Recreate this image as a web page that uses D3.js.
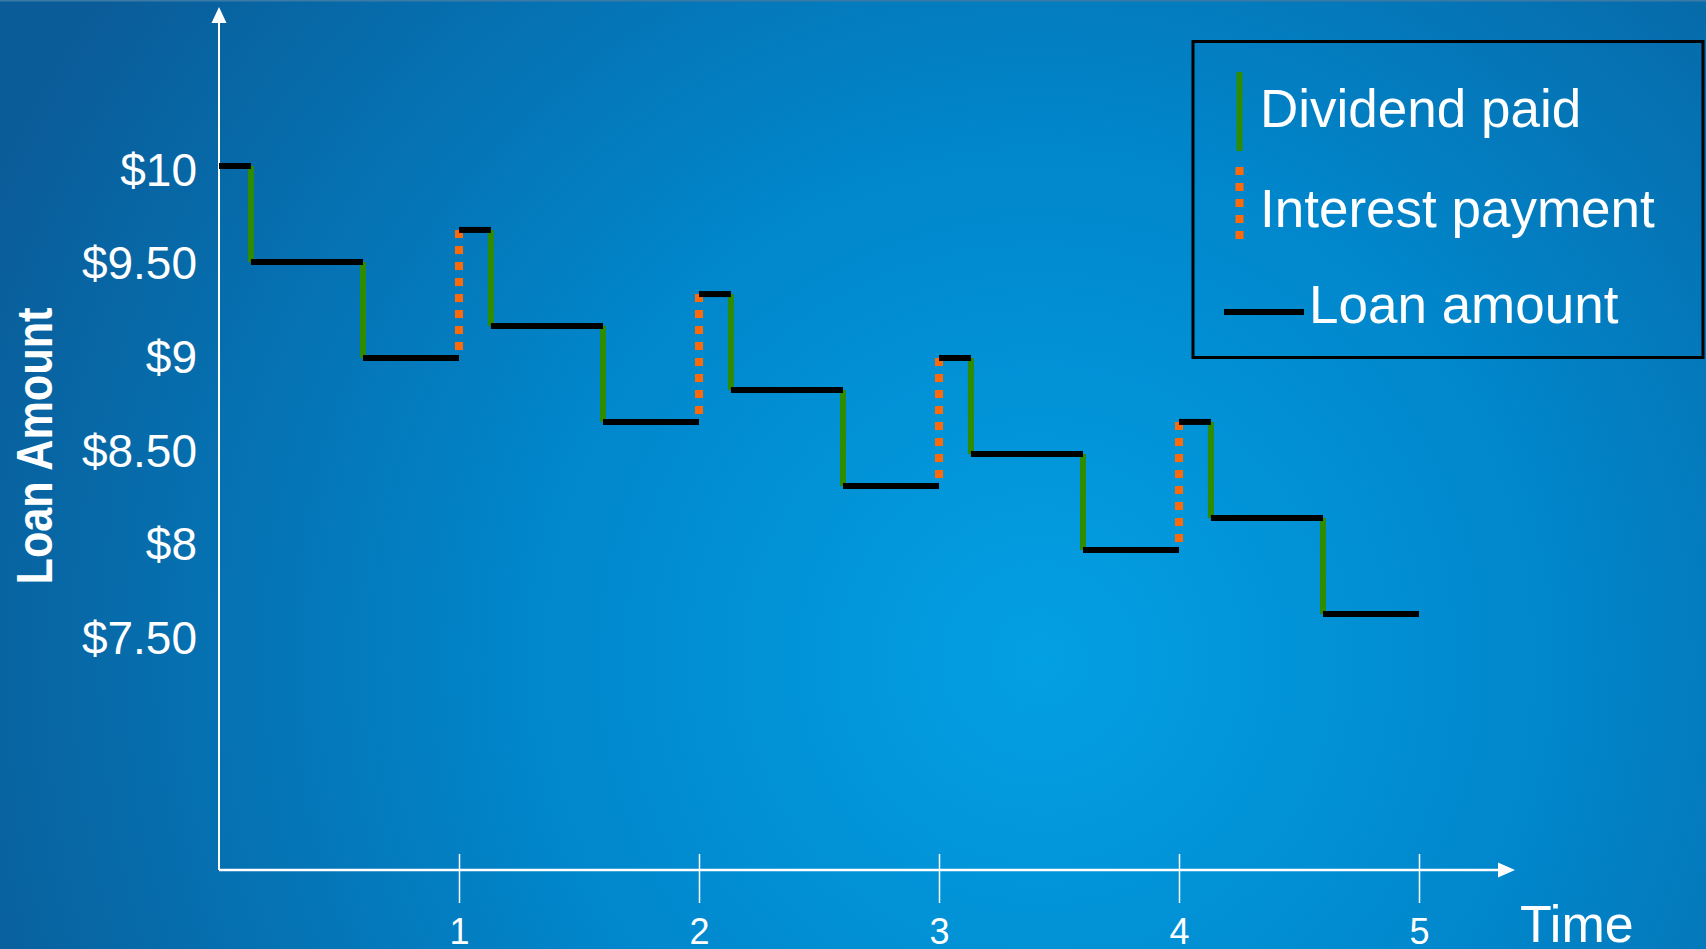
<!DOCTYPE html>
<html>
<head>
<meta charset="utf-8">
<script src="https://cdn.jsdelivr.net/npm/d3@7"></script>
<style>
  html, body { margin: 0; padding: 0; overflow: hidden; background: #0a64a0; }
  svg { display: block; }
  text { font-family: "Liberation Sans", Arial, sans-serif; fill: #fff; }
</style>
</head>
<body>
<svg id="chart" width="1706" height="949"></svg>
<script>
// ---- data ----
const breakTimes = [0, 0.133, 0.6, 1, 1.133, 1.6, 2, 2.133, 2.6, 3, 3.133, 3.6, 4, 4.133, 4.6, 5];
const loanLevels = [10, 9.5, 9.0, 9.667, 9.167, 8.667, 9.333, 8.833, 8.333, 9.0, 8.5, 8.0, 8.667, 8.167, 7.667];
const eventTypes = ["dividend", "dividend", "interest", "dividend", "dividend", "interest", "dividend",
                    "dividend", "interest", "dividend", "dividend", "interest", "dividend", "dividend"];
const yTickValues = [10, 9.5, 9, 8.5, 8, 7.5];
const yTickLabels = ["$10", "$9.50", "$9", "$8.50", "$8", "$7.50"];
const xTickValues = [1, 2, 3, 4, 5];
const xTickLabels = ["1", "2", "3", "4", "5"];
const legendItems = ["Dividend paid", "Interest payment", "Loan amount"];

const W = 1706, H = 949;
const svg = d3.select("#chart");

// background
const defs = svg.append("defs");
const rg = defs.append("radialGradient").attr("id", "bg")
  .attr("gradientUnits", "userSpaceOnUse")
  .attr("cx", 1040).attr("cy", 660).attr("r", 1150);
rg.append("stop").attr("offset", 0).attr("stop-color", "#03a0e3");
rg.append("stop").attr("offset", 0.45).attr("stop-color", "#0186cb");
rg.append("stop").attr("offset", 1).attr("stop-color", "#0a5c98");
svg.append("rect").attr("width", W).attr("height", H).attr("fill", "url(#bg)");
svg.append("rect").attr("width", W).attr("height", 1.5).attr("fill", "#3a7aa6");

// scales
const x = d3.scaleLinear().domain([0, 5]).range([219, 1419]);
const y = d3.scaleLinear().domain([7.5, 10]).range([646, 166]);
// tick labels sit on a slightly tighter spacing than the gridded values
const yLabel = d3.scaleLinear().domain([7.5, 10]).range([653.5, 185]);
const axisY = 870;

// y axis line with arrow
svg.append("line").attr("x1", x(0)).attr("x2", x(0)).attr("y1", axisY).attr("y2", 20)
  .attr("stroke", "#fff").attr("stroke-width", 2);
svg.append("path").attr("d", `M${x(0)},7 L${x(0) - 7.5},23 L${x(0) + 7.5},23 Z`).attr("fill", "#fff");

// x axis line with arrow
svg.append("line").attr("x1", x(0)).attr("x2", 1500).attr("y1", axisY).attr("y2", axisY)
  .attr("stroke", "#fff").attr("stroke-width", 2.5);
svg.append("path").attr("d", `M1515,${axisY} L1498,${axisY - 7.5} L1498,${axisY + 7.5} Z`).attr("fill", "#fff");

// x axis ticks
const xAxis = d3.axisBottom(x).tickValues(xTickValues)
  .tickFormat((d, i) => xTickLabels[i]).tickSizeOuter(0);
const gx = svg.append("g").attr("transform", `translate(0,${axisY})`).call(xAxis);
gx.select(".domain").remove();
gx.selectAll(".tick line").attr("stroke", "#fff").attr("stroke-width", 1.5).attr("y1", -16).attr("y2", 33);
gx.selectAll(".tick text").attr("fill", "#fff").attr("font-size", 36)
  .attr("font-family", "Liberation Sans, Arial, sans-serif")
  .attr("dy", null).attr("y", 74);

// y axis labels
const yAxis = d3.axisLeft(yLabel).tickValues(yTickValues)
  .tickFormat((d, i) => yTickLabels[i]).tickSize(0).tickPadding(0);
const gy = svg.append("g").attr("transform", `translate(197,0)`).call(yAxis);
gy.select(".domain").remove();
gy.selectAll(".tick text").attr("fill", "#fff").attr("font-size", 46)
  .attr("font-family", "Liberation Sans, Arial, sans-serif")
  .attr("dy", null).attr("y", 0).attr("x", 0).attr("text-anchor", "end");

// axis titles
svg.append("text").attr("transform", "translate(52,446) rotate(-90)")
  .attr("text-anchor", "middle").attr("font-size", 50).attr("font-weight", "bold")
  .attr("textLength", 277).attr("lengthAdjust", "spacingAndGlyphs")
  .text("Loan Amount");
svg.append("text").attr("x", 1520).attr("y", 942).attr("font-size", 52).text("Time");

// event verticals
const events = eventTypes.map((t, i) => ({
  type: t, time: breakTimes[i + 1], from: loanLevels[i], to: loanLevels[i + 1]
}));
svg.append("g").selectAll("line.ev").data(events).join("line")
  .attr("x1", d => x(d.time)).attr("x2", d => x(d.time))
  .attr("y1", d => d.type === "interest" ? y(d.to) : y(d.from))
  .attr("y2", d => d.type === "interest" ? y(d.from) : y(d.to))
  .attr("stroke", d => d.type === "interest" ? "#ff6a08" : "#2f8c00")
  .attr("stroke-width", d => d.type === "interest" ? 8 : 6)
  .attr("stroke-dasharray", d => d.type === "interest" ? "8,8" : null);

// loan levels
const segs = loanLevels.map((v, i) => ({ v, t0: breakTimes[i], t1: breakTimes[i + 1] }));
svg.append("g").selectAll("line").data(segs).join("line")
  .attr("x1", d => x(d.t0)).attr("x2", d => x(d.t1))
  .attr("y1", d => y(d.v)).attr("y2", d => y(d.v))
  .attr("stroke", "#000").attr("stroke-width", 6);

// legend
const lg = svg.append("g");
lg.append("rect").attr("x", 1193).attr("y", 41.5).attr("width", 510).attr("height", 316)
  .attr("fill", "none").attr("stroke", "#000").attr("stroke-width", 3);
lg.append("line").attr("x1", 1239.5).attr("x2", 1239.5).attr("y1", 72).attr("y2", 151)
  .attr("stroke", "#2f8c00").attr("stroke-width", 6);
lg.append("line").attr("x1", 1239.5).attr("x2", 1239.5).attr("y1", 167).attr("y2", 240)
  .attr("stroke", "#ff6a08").attr("stroke-width", 8).attr("stroke-dasharray", "8,8");
lg.append("line").attr("x1", 1224).attr("x2", 1304).attr("y1", 312).attr("y2", 312)
  .attr("stroke", "#000").attr("stroke-width", 6);
const legendPos = [[1260, 127], [1260, 227], [1309, 323]];
lg.selectAll("text").data(legendItems).join("text")
  .attr("x", (d, i) => legendPos[i][0]).attr("y", (d, i) => legendPos[i][1])
  .attr("font-size", 53).text(d => d);
</script>
</body>
</html>
